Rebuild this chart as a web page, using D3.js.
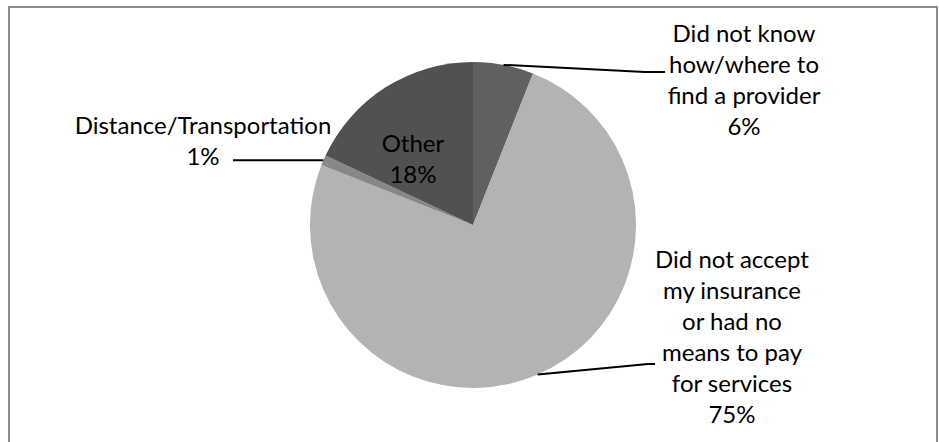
<!DOCTYPE html>
<html>
<head>
<meta charset="utf-8">
<script src="https://cdn.jsdelivr.net/npm/d3@7"></script>
<style>
  html, body { margin: 0; padding: 0; background: #fff; }
  svg { display: block; }
  text { font-family: Lato, "Open Sans", sans-serif; fill: #000; }
</style>
</head>
<body>
<svg id="chart" width="939" height="442"></svg>
<script>
// Reasons for not getting care (share of respondents)
const categories = [
  "Did not know how/where to find a provider",
  "Did not accept my insurance or had no means to pay for services",
  "Distance/Transportation",
  "Other"
];
const values = [6, 75, 1, 18];
const colors = ["#606060", "#b3b3b3", "#878787", "#515151"];

// Label text lines (the last line is the percentage)
const labelLines = [
  ["Did not know", "how/where to", "find a provider"],
  ["Did not accept", "my insurance", "or had no", "means to pay", "for services"],
  ["Distance/Transportation"],
  ["Other"]
];

const width = 939, height = 442;
const cx = 473, cy = 225, radius = 163;
const lineH = 31;
const fontSize = 24;

const svg = d3.select("#chart");

// chart frame (bottom edge falls outside the view)
svg.append("rect")
  .attr("x", 9).attr("y", 7)
  .attr("width", 928).attr("height", 480)
  .attr("fill", "#fff")
  .attr("stroke", "#8c8c8c")
  .attr("stroke-width", 2);

const data = categories.map((c, i) => ({ name: c, value: values[i], lines: labelLines[i], color: colors[i] }));

const pie = d3.pie().sort(null).value(d => d.value);
const arcs = pie(data);
const arc = d3.arc().innerRadius(0).outerRadius(radius);

const g = svg.append("g").attr("transform", `translate(${cx},${cy})`);

g.selectAll("path.slice")
  .data(arcs)
  .join("path")
  .attr("class", "slice")
  .attr("d", arc)
  .attr("fill", d => d.data.color);

// point on the rim at a slice's mid angle
function rimPoint(d) {
  const a = (d.startAngle + d.endAngle) / 2;
  return [radius * Math.sin(a), -radius * Math.cos(a)];
}

// label placement: text block centre x, first baseline y, leader elbow (absolute page coords)
const labelLayout = [
  { x: 744, y: 42, elbow: [645, 72], end: [665, 72] },
  { x: 732, y: 268, elbow: [648, 364], end: [655, 364] },
  { x: 203, y: 134, elbow: null, end: [233, 160] },
  { x: 413, y: 152, elbow: null, end: null }
];

const labels = svg.append("g");

arcs.forEach((d, i) => {
  const L = labelLayout[i];
  const lines = d.data.lines.concat([d3.format(".0f")(d.data.value) + "%"]);
  const t = labels.append("text")
    .attr("text-anchor", "middle")
    .attr("font-size", fontSize);
  lines.forEach((ln, k) => {
    t.append("tspan").attr("x", L.x).attr("y", L.y + k * lineH).text(ln);
  });

  if (L.end) {
    const [px, py] = rimPoint(d);
    const pts = [[cx + px, cy + py]];
    if (L.elbow) pts.push(L.elbow);
    else pts.push([L.end[0], cy + py]);
    if (L.elbow) pts.push(L.end);
    labels.append("path")
      .attr("d", d3.line()(pts))
      .attr("fill", "none")
      .attr("stroke", "#000")
      .attr("stroke-width", 2);
  }
});
</script>
</body>
</html>
